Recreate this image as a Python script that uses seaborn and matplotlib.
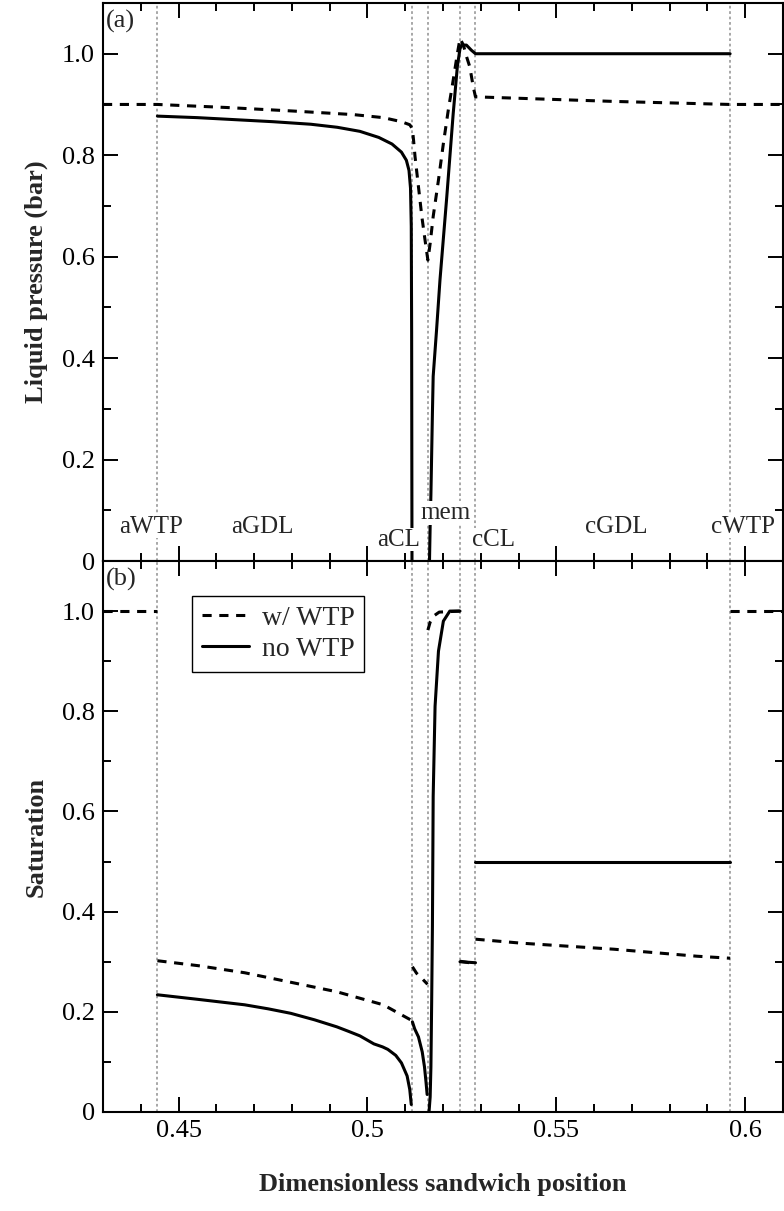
import numpy as np
import pandas as pd
import matplotlib
matplotlib.use("Agg")
import matplotlib.pyplot as plt
import seaborn as sns
from matplotlib.ticker import MultipleLocator, FuncFormatter
from matplotlib.lines import Line2D

# layer boundaries (dimensionless sandwich position)
layer_edges = [0.4444, 0.5119, 0.5160, 0.5245, 0.5286, 0.5960]
region_names = ["aWTP", "aGDL", "aCL", "mem", "cCL", "cGDL", "cWTP"]

# (a) liquid pressure (bar), with WTP - continuous through all layers
p_wtp_x = [0.430, 0.4444, 0.4627, 0.4804, 0.4963, 0.5042, 0.5090, 0.5112, 0.5119,
           0.5122, 0.5126, 0.5135, 0.5144, 0.5152, 0.5160,
           0.5166, 0.5174, 0.5188, 0.5201, 0.5214, 0.5227, 0.5238, 0.5245,
           0.5254, 0.5262, 0.5271, 0.5280, 0.5286,
           0.5408, 0.5652, 0.5960, 0.610]
p_wtp_y = [0.900, 0.900, 0.894, 0.887, 0.880, 0.874, 0.866, 0.860, 0.852,
           0.830, 0.797, 0.738, 0.679, 0.635, 0.593,
           0.626, 0.679, 0.751, 0.823, 0.889, 0.948, 1.000, 1.030,
           1.017, 0.995, 0.974, 0.935, 0.915,
           0.912, 0.906, 0.900, 0.900]

# (a) liquid pressure, no WTP - anode side and cathode side
p_nowtp_an_x = [0.4444, 0.4550, 0.4650, 0.4750, 0.4850, 0.4920, 0.4980,
                0.5030, 0.5065, 0.5090, 0.5103, 0.5110, 0.5114, 0.5116,
                0.5117, 0.5118]
p_nowtp_an_y = [0.877, 0.874, 0.870, 0.866, 0.861, 0.855, 0.847,
                0.835, 0.822, 0.806, 0.790, 0.770, 0.735, 0.660,
                0.450, -0.050]
p_nowtp_ca_x = [0.5163, 0.5166, 0.5168, 0.5172, 0.5174, 0.5183, 0.5192,
                0.5210, 0.5227, 0.5238, 0.5245, 0.5250, 0.5262, 0.5275,
                0.5286, 0.5960]
p_nowtp_ca_y = [-0.050, 0.070, 0.131, 0.292, 0.364, 0.456, 0.554,
                0.718, 0.882, 0.975, 1.010, 1.017, 1.017, 1.007,
                1.000, 1.000]

# (b) saturation, with WTP (one array per layer)
s_wtp_awtp_x = [0.430, 0.4444]
s_wtp_awtp_y = [1.000, 1.000]
s_wtp_agdl_x = [0.4444, 0.4553, 0.4675, 0.4797, 0.4919, 0.5042, 0.5119]
s_wtp_agdl_y = [0.302, 0.292, 0.278, 0.259, 0.240, 0.214, 0.182]
s_wtp_acl_x = [0.5119, 0.5130, 0.5145, 0.5159]
s_wtp_acl_y = [0.290, 0.277, 0.266, 0.255]
s_wtp_mem_x = [0.5160, 0.5166, 0.5175, 0.5190, 0.5245]
s_wtp_mem_y = [0.962, 0.978, 0.990, 0.998, 1.000]
s_wtp_ccl_x = [0.5245, 0.5286]
s_wtp_ccl_y = [0.301, 0.296]
s_wtp_cgdl_x = [0.5286, 0.5408, 0.5652, 0.5872, 0.5960]
s_wtp_cgdl_y = [0.345, 0.337, 0.325, 0.311, 0.307]
s_wtp_cwtp_x = [0.5960, 0.610]
s_wtp_cwtp_y = [1.000, 1.000]

# (b) saturation, no WTP
s_nowtp_agdl_x = [0.4444, 0.4550, 0.4675, 0.4737, 0.4797, 0.4860, 0.4919,
                  0.4950, 0.4980, 0.5017, 0.5040, 0.5054, 0.5075, 0.5090,
                  0.5105, 0.5112, 0.5116]
s_nowtp_agdl_y = [0.234, 0.225, 0.214, 0.206, 0.197, 0.184, 0.170,
                  0.161, 0.152, 0.136, 0.130, 0.125, 0.113, 0.098,
                  0.072, 0.045, 0.015]
s_nowtp_acl_x = [0.5119, 0.5125, 0.5135, 0.5145, 0.5151, 0.5155, 0.5158]
s_nowtp_acl_y = [0.180, 0.166, 0.150, 0.120, 0.090, 0.060, 0.035]
s_nowtp_mem_x = [0.5163, 0.5166, 0.5168, 0.5170, 0.5172, 0.5174, 0.5179,
                 0.5188, 0.5201, 0.5218, 0.5245]
s_nowtp_mem_y = [0.000, 0.030, 0.090, 0.220, 0.370, 0.630, 0.810,
                 0.920, 0.980, 1.000, 1.000]
s_nowtp_ccl_x = [0.5245, 0.5286]
s_nowtp_ccl_y = [0.300, 0.298]
s_nowtp_cgdl_x = [0.5286, 0.5960]
s_nowtp_cgdl_y = [0.500, 0.500]


def segments_frame(segments):
    """Long table: one row per point, with case and segment id."""
    rows = []
    for case, name, xs, ys in segments:
        for x, y in zip(xs, ys):
            rows.append({"x": x, "y": y, "case": case, "seg": name})
    return pd.DataFrame(rows)


df_p = segments_frame([
    ("w/ WTP", "wtp", p_wtp_x, p_wtp_y),
    ("no WTP", "an", p_nowtp_an_x, p_nowtp_an_y),
    ("no WTP", "ca", p_nowtp_ca_x, p_nowtp_ca_y),
])
df_s = segments_frame([
    ("w/ WTP", "awtp", s_wtp_awtp_x, s_wtp_awtp_y),
    ("w/ WTP", "agdl", s_wtp_agdl_x, s_wtp_agdl_y),
    ("w/ WTP", "acl", s_wtp_acl_x, s_wtp_acl_y),
    ("w/ WTP", "mem", s_wtp_mem_x, s_wtp_mem_y),
    ("w/ WTP", "ccl", s_wtp_ccl_x, s_wtp_ccl_y),
    ("w/ WTP", "cgdl", s_wtp_cgdl_x, s_wtp_cgdl_y),
    ("w/ WTP", "cwtp", s_wtp_cwtp_x, s_wtp_cwtp_y),
    ("no WTP", "n_agdl", s_nowtp_agdl_x, s_nowtp_agdl_y),
    ("no WTP", "n_acl", s_nowtp_acl_x, s_nowtp_acl_y),
    ("no WTP", "n_mem", s_nowtp_mem_x, s_nowtp_mem_y),
    ("no WTP", "n_ccl", s_nowtp_ccl_x, s_nowtp_ccl_y),
    ("no WTP", "n_cgdl", s_nowtp_cgdl_x, s_nowtp_cgdl_y),
])

sns.set_style("ticks")
plt.rcParams["font.family"] = ["Liberation Serif", "DejaVu Serif"]

LW = 2.2
dash_map = {"w/ WTP": (3, 2.5), "no WTP": ""}

W, H = 784, 1211
fig = plt.figure(figsize=(W / 100, H / 100), dpi=100)
ax1 = fig.add_axes([103 / W, 1 - 561 / H, 680 / W, 558 / H])
ax2 = fig.add_axes([103 / W, 1 - 1112 / H, 680 / W, 551 / H], sharex=ax1)

for ax, df in ((ax1, df_p), (ax2, df_s)):
    sns.lineplot(data=df, x="x", y="y", style="case", units="seg",
                 estimator=None, sort=False, color="black",
                 style_order=["w/ WTP", "no WTP"], dashes=dash_map,
                 lw=LW, legend=False, ax=ax, zorder=3)
    for xv in layer_edges:
        ax.axvline(xv, color="#a0a0a0", lw=1.3, ls=(0, (1.5, 1.5)), zorder=1)
    ax.set_xlim(0.43, 0.61)
    ax.set_ylim(0, 1.1)
    ax.xaxis.set_major_locator(MultipleLocator(0.05))
    ax.xaxis.set_minor_locator(MultipleLocator(0.01))
    ax.yaxis.set_major_locator(MultipleLocator(0.2))
    ax.yaxis.set_minor_locator(MultipleLocator(0.1))
    ax.yaxis.set_major_formatter(
        FuncFormatter(lambda v, p: "0" if abs(v) < 1e-9 else f"{v:.1f}"))
    ax.xaxis.set_major_formatter(FuncFormatter(lambda v, p: f"{v:g}"))
    ax.tick_params(which="both", direction="in", top=True, right=True,
                   width=1.4, colors="black")
    ax.tick_params(which="major", length=11, labelsize=19, pad=6)
    ax.tick_params(which="minor", length=6)
    for sp in ax.spines.values():
        sp.set_linewidth(1.5)
        sp.set_color("black")

ax1.tick_params(labelbottom=False)
ax1.set_xlabel("")
ax1.set_ylabel("Liquid pressure (bar)", fontsize=19, fontweight="bold",
               labelpad=10)
ax2.set_ylabel("Saturation", fontsize=19, fontweight="bold", labelpad=10)
ax2.set_xlabel("Dimensionless sandwich position", fontsize=19,
               fontweight="bold", labelpad=22)

# layer names along the bottom of panel (a)
label_x = [0.4427, 0.4723, 0.5083, 0.5206, 0.5333, 0.5658, 0.5994]
label_y = [0.068, 0.068, 0.042, 0.095, 0.042, 0.068, 0.068]
for name, lx, ly in zip(region_names, label_x, label_y):
    ax1.text(lx, ly, name, ha="center", va="center", fontsize=18,
             bbox=dict(fc="white", ec="none", pad=0.5), zorder=5)

ax1.text(0.004, 0.988, "(a)", transform=ax1.transAxes, ha="left", va="top",
         fontsize=19)
ax2.text(0.004, 0.988, "(b)", transform=ax2.transAxes, ha="left", va="top",
         fontsize=19)

handles = [Line2D([], [], color="black", lw=LW, dashes=dash_map["w/ WTP"]),
           Line2D([], [], color="black", lw=LW)]
leg = ax2.legend(handles, ["w/ WTP", "no WTP"], loc="upper left",
                 bbox_to_anchor=(0.131, 0.9365), borderaxespad=0,
                 fancybox=False, edgecolor="black", framealpha=1,
                 fontsize=20, handlelength=1.7, handletextpad=0.45,
                 labelspacing=0.2, borderpad=0.35)
leg.get_frame().set_linewidth(1.0)

fig.savefig("out.png", dpi=100)
